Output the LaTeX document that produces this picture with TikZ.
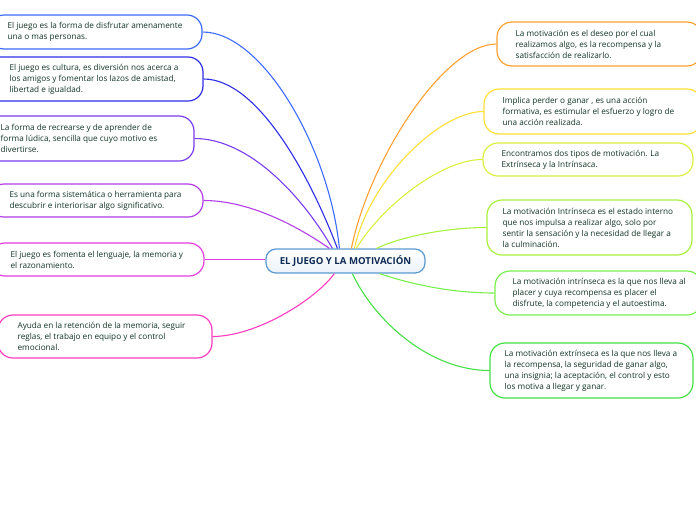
\documentclass[tikz,border=0pt]{standalone}
\usepackage{fontspec}
\setmainfont{Open Sans}
\usetikzlibrary{calc}
\definecolor{txt}{HTML}{123526}
\definecolor{ctxt}{HTML}{0D2A55}
\definecolor{cborder}{HTML}{5A9AD0}
\definecolor{cL1}{HTML}{3D6BFF}
\definecolor{cL2}{HTML}{2E2EE6}
\definecolor{cL3}{HTML}{7A3CF0}
\definecolor{cL4}{HTML}{B23CE8}
\definecolor{cL5}{HTML}{E63CE0}
\definecolor{cL6}{HTML}{FF3CC0}
\definecolor{cR1}{HTML}{FFA030}
\definecolor{cR2}{HTML}{FFE033}
\definecolor{cR3}{HTML}{DAF03C}
\definecolor{cR4}{HTML}{A8F03C}
\definecolor{cR5}{HTML}{78F04C}
\definecolor{cR6}{HTML}{44E044}
\begin{document}
\begin{tikzpicture}[x=1pt,y=-1pt,
  boxshape/.style={draw=#1, line width=1.2pt, rounded corners=15pt, fill=white, inner sep=0pt},
  bodytext/.style={font=\fontsize{8.2}{11}\selectfont, text=txt, align=left, inner sep=0pt, anchor=west},
  link/.style={draw=#1, line width=1.1pt}]
\useasboundingbox (0,0) rectangle (696,520);
\clip (0,0) rectangle (696,520);
% central
\node[draw=cborder, line width=1.2pt, rounded corners=10pt, top color=white, bottom color=cborder!12,
      minimum width=159pt, minimum height=24pt, inner sep=0pt,
      font=\fontsize{9.6}{11}\selectfont\bfseries, text=ctxt] (C) at (345.5,261) {EL JUEGO Y LA MOTIVACIÓN};
% left boxes
\node[boxshape=cL1, minimum width=213pt, minimum height=34pt] (L1) at (95.5,32) {};
\node[boxshape=cL2, minimum width=218pt, minimum height=44pt] (L2) at (94,79) {};
\node[boxshape=cL3, minimum width=230pt, minimum height=45pt] (L3) at (79,138.5) {};
\node[boxshape=cL4, minimum width=214pt, minimum height=33pt] (L4) at (96,200.5) {};
\node[boxshape=cL5, minimum width=214pt, minimum height=33pt] (L5) at (97,259.5) {};
\node[boxshape=cL6, minimum width=214pt, minimum height=43pt] (L6) at (105,336.5) {};
% right boxes
\node[boxshape=cR1, minimum width=205pt, minimum height=44pt] (R1) at (599.5,44) {};
\node[boxshape=cR2, minimum width=218pt, minimum height=45pt] (R2) at (593,111.5) {};
\node[boxshape=cR3, minimum width=210pt, minimum height=33pt] (R3) at (588,159.5) {};
\node[boxshape=cR4, minimum width=205pt, minimum height=55pt] (R4) at (589.5,227.5) {};
\node[boxshape=cR5, minimum width=207pt, minimum height=44pt] (R5) at (598.5,293) {};
\node[boxshape=cR6, minimum width=203pt, minimum height=55pt] (R6) at (591.5,370.5) {};
% texts
\node[bodytext] (L1t) at ($(L1.west)+(19,0)$) {El juego es la forma de disfrutar amenamente\\una o mas personas.};
\node[bodytext] (L2t) at ($(L2.west)+(25,0)$) {El juego es cultura, es diversión nos acerca a\\los amigos y fomentar los lazos de amistad,\\libertad e igualdad.};
\node[bodytext] (L3t) at ($(L3.west)+(37,0)$) {La forma de recrearse y de aprender de\\forma lúdica, sencilla que cuyo motivo es\\divertirse.};
\node[bodytext] (L4t) at ($(L4.west)+(21,0)$) {Es una forma sistemática o herramienta para\\descubrir e interiorisar algo significativo.};
\node[bodytext] (L5t) at ($(L5.west)+(21,0)$) {El juego es fomenta el lenguaje, la memoria y\\el razonamiento.};
\node[bodytext] (L6t) at ($(L6.west)+(20,0)$) {Ayuda en la retención de la memoria, seguir\\reglas, el trabajo en equipo y el control\\emocional.};
\node[bodytext] (R1t) at ($(R1.west)+(19,0)$) {La motivación es el deseo por el cual\\realizamos algo, es la recompensa y la\\satisfacción de realizarlo.};
\node[bodytext] (R2t) at ($(R2.west)+(19,0)$) {Implica perder o ganar , es una acción\\formativa, es estimular el esfuerzo y logro de\\una acción realizada.};
\node[bodytext] (R3t) at ($(R3.west)+(19,0)$) {Encontramos dos tipos de motivación. La\\Extrínseca y la Intrínsaca.};
\node[bodytext] (R4t) at ($(R4.west)+(16,0)$) {La motivación Intrínseca es el estado interno\\que nos impulsa a realizar algo, solo por\\sentir la sensación y la necesidad de llegar a\\la culminación.};
\node[bodytext] (R5t) at ($(R5.west)+(18,0)$) {La motivación intrínseca es la que nos lleva al\\placer y cuya recompensa es placer el\\disfrute, la competencia y el autoestima.};
\node[bodytext] (R6t) at ($(R6.west)+(15,0)$) {La motivación extrínseca es la que nos lleva a\\la recompensa, la seguridad de ganar algo,\\una insignia; la aceptación, el control y esto\\los motiva a llegar y ganar.};
% connectors
\draw[link=cL1] ($(C.north west)+(74,0)$) .. controls ($(C.north west)+(64,-100)$) and ($(L1.east)+(60,0)$) .. (L1.east);
\draw[link=cL2] ($(C.north west)+(72,0)$) .. controls ($(C.north west)+(46,-69)$) and ($(L2.east)+(55,0)$) .. (L2.east);
\draw[link=cL3] ($(C.north west)+(67,0)$) .. controls ($(C.north west)+(39,-49)$) and ($(L3.east)+(56,0)$) .. (L3.east);
\draw[link=cL4] ($(C.north west)+(64,0)$) .. controls ($(C.north west)+(34,-21)$) and ($(L4.east)+(47,0)$) .. (L4.east);
\draw[link=cL5] (L5.east -| C.west) -- (L5.east);
\draw[link=cL6] ($(C.south west)+(69,0)$) .. controls ($(C.south west)+(49,27)$) and ($(L6.east)+(43,0)$) .. (L6.east);
\draw[link=cR1] ($(C.north west)+(86,0)$) .. controls ($(C.north west)+(104,-89)$) and ($(R1.west)+(-52,0)$) .. (R1.west);
\draw[link=cR2] ($(C.north west)+(89,0)$) .. controls ($(C.north west)+(104,-69)$) and ($(R2.west)+(-44,0)$) .. (R2.west);
\draw[link=cR3] ($(C.north west)+(91,0)$) .. controls ($(C.north west)+(114,-39)$) and ($(R3.west)+(-43,0)$) .. (R3.west);
\draw[link=cR4] ($(C.north west)+(111,0)$) .. controls ($(C.north west)+(134,-11)$) and ($(R4.west)+(-42,0)$) .. (R4.west);
\draw[link=cR5] ($(C.south west)+(114,0)$) .. controls ($(C.south west)+(144,10)$) and ($(R5.west)+(-45,0)$) .. (R5.west);
\draw[link=cR6] ($(C.south west)+(87,0)$) .. controls ($(C.south west)+(109,47)$) and ($(R6.west)+(-60,0)$) .. (R6.west);
\end{tikzpicture}
\end{document}
